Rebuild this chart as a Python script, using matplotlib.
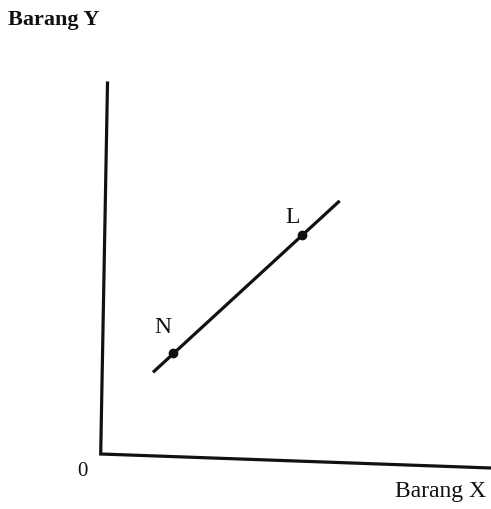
import matplotlib
matplotlib.use("Agg")
import matplotlib.pyplot as plt
from matplotlib.transforms import Affine2D

# Quantities of goods X and Y (arbitrary units)
axis_max_x = 10.0
axis_max_y = 10.0
line_x = [1.3, 6.0]
line_y = [2.25, 7.05]
point_names = ["N", "L"]
point_x = [1.8, 5.05]
point_y = [2.8, 6.1]
label_x = [1.54, 4.80]
label_y = [3.48, 6.56]

W, H = 491, 509
fig = plt.figure(figsize=(W / 100, H / 100), dpi=100)
ax = fig.add_axes([0, 0, 1, 1])
ax.set_xlim(0, W)
ax.set_ylim(H, 0)
ax.axis("off")

# Map diagram units onto the (slightly tilted) drawing plane
origin = (100.7, 454.0)
ex = ((491.0 - origin[0]) / axis_max_x, (468.0 - origin[1]) / axis_max_x)
ey = ((107.5 - origin[0]) / axis_max_y, (83.0 - origin[1]) / axis_max_y)
diag = Affine2D.from_values(ex[0], ex[1], ey[0], ey[1], origin[0], origin[1]) + ax.transData

serif = "Liberation Serif"

# Axes
ax.plot([0, 0, axis_max_x], [axis_max_y, 0, 0], color="#111111", lw=2.3,
        solid_joinstyle="miter", transform=diag)

# Line through N and L
ax.plot(line_x, line_y, color="#111111", lw=2.3, solid_capstyle="butt", transform=diag)
ax.plot(point_x, point_y, "o", color="#111111", ms=6, transform=diag)
for name, lx, ly in zip(point_names, label_x, label_y):
    ax.text(lx, ly, name, transform=diag, ha="center", va="center",
            fontsize=17, family=serif, color="#111111")

# Axis labels
ax.text(8, 20, "Barang Y", ha="left", va="center", fontsize=16,
        family=serif, fontweight="bold", color="#111111")
ax.text(486, 492, "Barang X", ha="right", va="center", fontsize=17,
        family=serif, color="#111111")
ax.text(82, 471, "0", ha="center", va="center", fontsize=15,
        family=serif, color="#111111")

fig.savefig("out.png", dpi=100, facecolor="white")
